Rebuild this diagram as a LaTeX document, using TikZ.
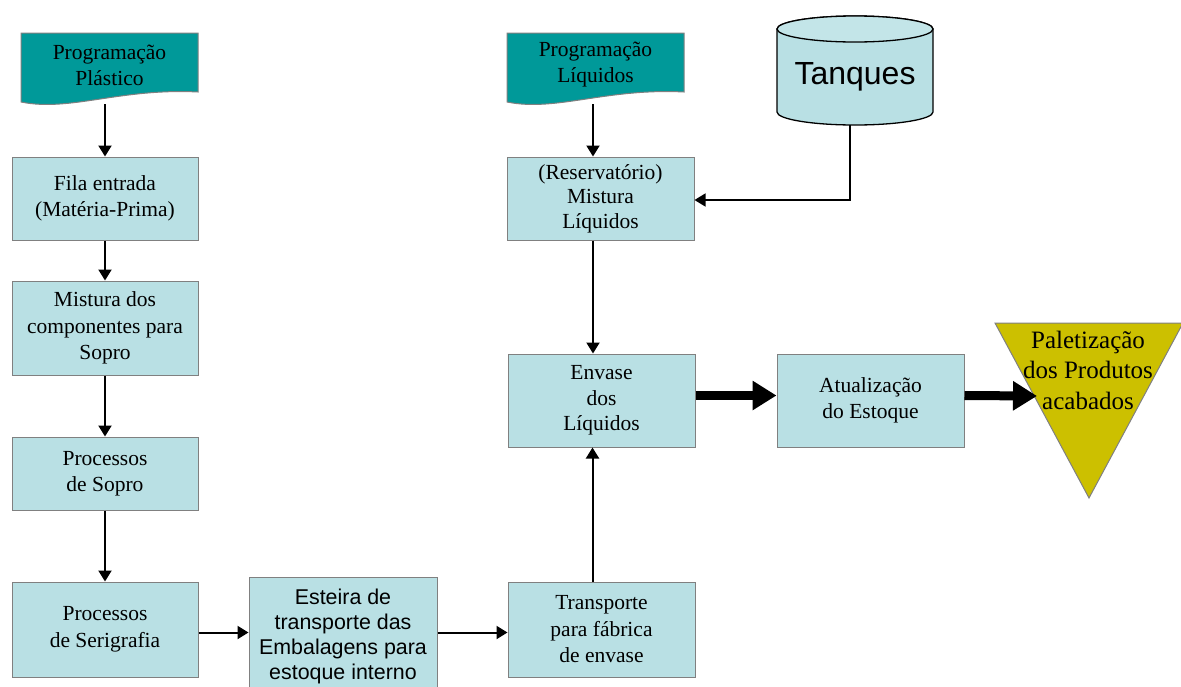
\documentclass[tikz,border=0pt]{standalone}
\usepackage{fontspec}
\setmainfont{Liberation Serif}
\newfontfamily\arialfont{Liberation Sans}
\usetikzlibrary{arrows.meta}
\definecolor{boxc}{RGB}{185,224,228}
\definecolor{tealc}{RGB}{0,153,153}
\definecolor{olivec}{RGB}{204,192,0}
\definecolor{edgec}{RGB}{128,128,128}
\tikzset{
  procbox/.style={draw=edgec, line width=1pt, fill=boxc, inner sep=0pt, align=center,
    font=\fontsize{21.5}{26.5}\selectfont},
  docshape/.style={draw=edgec, line width=1pt, fill=tealc},
  doctext/.style={align=center, inner sep=0pt, font=\fontsize{21.5}{26}\selectfont},
  thin/.style={line width=2pt, -{Triangle[length=11pt,width=13pt]}},
  thick/.style={line width=9pt, -{Triangle[length=24pt,width=28pt]}},
}
\begin{document}
\begin{tikzpicture}[x=1pt,y=-1pt]
\useasboundingbox (0,0) rectangle (1181,686);
% document shapes
\path[docshape] (21,33) -- (198,33) -- (198,92) .. controls (120,88) and (70,112) .. (21,102) -- cycle;
\node[doctext] (progp) at (109.5,65) {Programação\\Plástico};
\coordinate (progpb) at (105,104);
\path[docshape] (507,33) -- (684,33) -- (684,92) .. controls (606,88) and (556,112) .. (507,102) -- cycle;
\node[doctext] (progl) at (595.5,65) {Programação\\Líquidos};
\coordinate (proglb) at (593,104);
% cylinder
\path[draw=black, line width=1.3pt, fill=boxc] (777,29) -- (777,112) arc[start angle=180, end angle=0, x radius=78, y radius=13] -- (933,29) arc[start angle=0, end angle=-180, x radius=78, y radius=13] -- cycle;
\draw[line width=1.3pt, fill=boxc!85!white] (855,29) ellipse[x radius=78, y radius=13];
\node[font=\arialfont\fontsize{32}{36}\selectfont, inner sep=0pt] (tanq) at (855,77) {Tanques};
\coordinate (tanqb) at (850,125);
% boxes
\node[procbox, minimum width=186pt, minimum height=83pt] (fila) at (105,198.5) {Fila entrada\\(Matéria-Prima)};
\node[procbox, minimum width=186pt, minimum height=94pt] (mist) at (105,328) {Mistura dos\\componentes para\\Sopro};
\node[procbox, minimum width=186pt, minimum height=73pt] (sopro) at (105,473.5) {Processos\\de Sopro};
\node[procbox, minimum width=186pt, minimum height=95pt] (seri) at (105,629.5) {Processos\\de Serigrafia};
\node[procbox, minimum width=188pt, minimum height=118pt, font=\arialfont\fontsize{21.4}{25}\selectfont] (est) at (343,636) {Esteira de\\transporte das\\Embalagens para\\estoque interno};
\node[procbox, minimum width=187pt, minimum height=95pt] (trans) at (601.5,629.5) {Transporte\\para fábrica\\de envase};
\node[procbox, minimum width=187pt, minimum height=83pt, font=\fontsize{21.5}{24.5}\selectfont] (res) at (600.5,198.5) {(Reservatório)\\Mistura\\Líquidos};
\node[procbox, minimum width=187pt, minimum height=93pt, font=\fontsize{21.5}{25.5}\selectfont] (env) at (601.5,400.5) {Envase\\dos\\Líquidos};
\node[procbox, minimum width=187pt, minimum height=93pt] (atu) at (870.5,400.5) {Atualização\\do Estoque};
% triangle
\path[draw=edgec, line width=1pt, fill=olivec] (995,323) -- (1183,323) -- (1089,498) -- cycle;
\node[align=center, inner sep=0pt, font=\fontsize{25}{30.5}\selectfont] (pal) at (1088,370) {Paletização\\dos Produtos\\acabados};
\coordinate (palin) at (1037,396);
% connectors
\draw[thin] (progpb) -- (fila.north);
\draw[thin] (fila.south) -- (mist.north);
\draw[thin] (mist.south) -- (sopro.north);
\draw[thin] (sopro.south) -- (seri.north);
\draw[thin] ([yshift=-3pt]seri.east) -- ([yshift=-3pt]seri.east -| est.west);
\draw[thin] ([yshift=-3pt]seri.east -| est.east) -- ([yshift=-3pt]trans.west);
\draw[thin] ([xshift=-9pt]trans.north) -- ([xshift=-9pt]env.south);
\draw[thin] (proglb) -- (proglb |- res.north);
\draw[thin] (proglb |- res.south) -- (proglb |- env.north);
\draw[thin, line width=1.5pt] (tanqb) |- ([yshift=-1.5pt]res.east);
\draw[thick] ([yshift=5pt]env.east) -- ([yshift=5pt]atu.west);
\draw[thick] ([yshift=5pt]atu.east) -- (palin);
\end{tikzpicture}
\end{document}
